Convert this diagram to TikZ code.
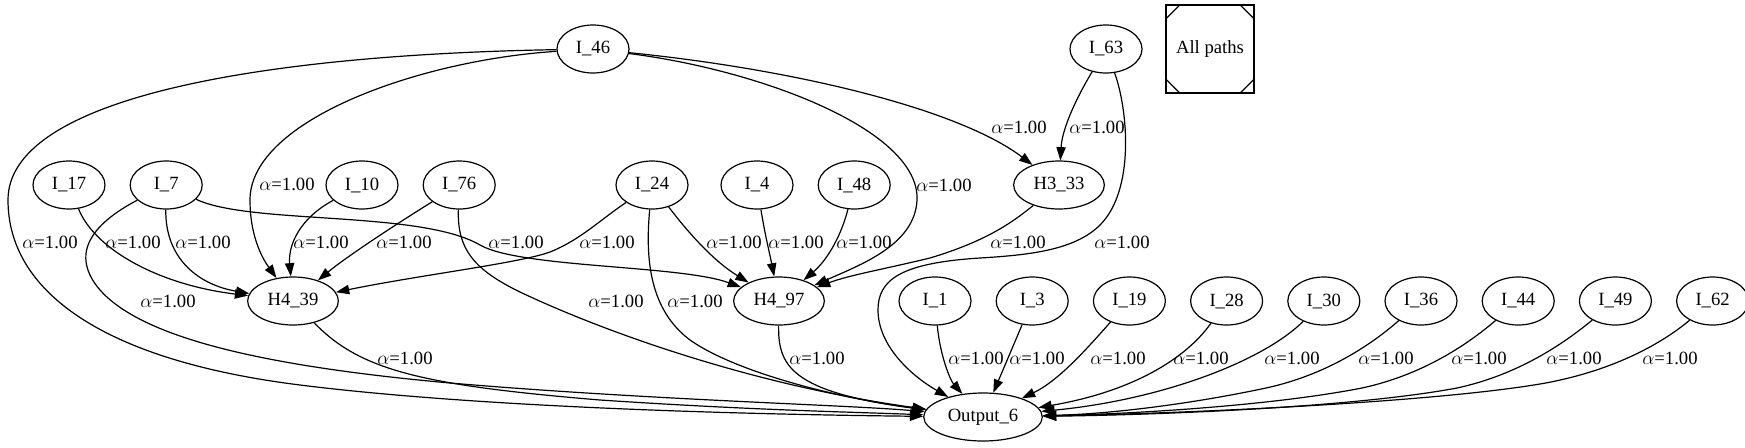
\documentclass[tikz,border=0pt]{standalone}
\usepackage{fontspec}
\setmainfont{Liberation Serif}
\usepackage{tikz}
\usetikzlibrary{shapes,arrows.meta}
\usetikzlibrary{positioning}
\usetikzlibrary{calc}
\newcommand\myalpha{$\alpha$=1.00}

\begin{document}
\begin{tikzpicture}[
x=0.75pt, y=-0.75pt,
node distance=18pt,
font=\fontsize{14}{16}\selectfont,
mynode/.style={
  ellipse,
  draw,
  line width=0.9pt,
  minimum width=54pt,
  minimum height=36pt,
  inner xsep=5pt,
  text centered},
mybox/.style={draw, line width=0.9pt, minimum size=66pt, inner sep=0pt},
mylabel/.style={inner sep=0pt},
myarrow/.style={line width=0.9pt, -{Triangle[length=10pt,width=7pt]}}
]
\useasboundingbox (0,0) rectangle (1745,447);
\node[mynode] (i46) at (593,49) {I\_46};
\node[mynode] (i63) at (1106,49) {I\_63};
\node[mybox] (allp) at (1210,49) {All paths};
\foreach \c/\sx/\sy in {north west/1/-1,north east/-1/-1,south west/1/1,south east/-1/1}
  \draw[line width=0.9pt] ($(allp.\c)+(0pt,\sy*11.25pt)$) -- ($(allp.\c)+(\sx*11.25pt,0pt)$);
\node[mynode] (i17) at (69,185) {I\_17};
\node[mynode,right=of i17] (i7) {I\_7};
\node[mynode] (i10) at (362,185) {I\_10};
\node[mynode,right=of i10] (i76) {I\_76};
\node[mynode] (i24) at (652,185) {I\_24};
\node[mynode] (i4) at (757,185) {I\_4};
\node[mynode,right=of i4] (i48) {I\_48};
\node[mynode] (h33) at (1059,185) {H3\_33};
\node[mynode] (h39) at (293,301) {H4\_39};
\node[mynode] (h97) at (779,301) {H4\_97};
\node[mynode] (i1) at (935,301) {I\_1};
\node[mynode,right=of i1] (i3) {I\_3};
\node[mynode,right=of i3] (i19) {I\_19};
\node[mynode,right=of i19] (i28) {I\_28};
\node[mynode,right=of i28] (i30) {I\_30};
\node[mynode,right=of i30] (i36) {I\_36};
\node[mynode,right=of i36] (i44) {I\_44};
\node[mynode,right=of i44] (i49) {I\_49};
\node[mynode,right=of i49] (i62) {I\_62};
\node[mynode] (out) at (983,417) {Output\_6};
\draw[myarrow] (i46) .. controls (250,55) and (8,100) .. (8,200) .. controls (8,290) and (100,360) .. (300,385) .. controls (500,410) and (800,415) .. (out) node[mylabel] (a1) at (50,242) {\myalpha};
\draw[myarrow] (i46) .. controls (420,60) and (250,120) .. (250,200) .. controls (250,240) and (265,262) .. (h39) node[mylabel] (a2) at (287,184) {\myalpha};
\draw[myarrow] (i46) .. controls (760,70) and (920,130) .. (917,200) .. controls (915,245) and (860,265) .. (h97) node[mylabel] (a3) at (944,185) {\myalpha};
\draw[myarrow] (i46) .. controls (800,70) and (960,110) .. (h33) node[mylabel] (a4) at (1019,127) {\myalpha};
\draw[myarrow] (i63) .. controls (1075,100) and (1062,130) .. (h33) node[mylabel] (a5) at (1097,127) {\myalpha};
\draw[myarrow] (i63) .. controls (1128,110) and (1135,190) .. (1100,225) .. controls (1075,250) and (1030,255) .. (980,258) .. controls (900,263) and (878,280) .. (878,310) .. controls (878,345) and (910,375) .. (out) node[mylabel] (a6) at (1122,242) {\myalpha};
\draw[myarrow] (i17) .. controls (95,250) and (160,285) .. (h39) node[mylabel] (a7) at (133,242) {\myalpha};
\draw[myarrow] (i7) .. controls (165,260) and (200,285) .. (h39) node[mylabel] (a8) at (203,242) {\myalpha};
\draw[myarrow] (i7) .. controls (250,225) and (420,210) .. (480,245) .. controls (520,268) and (680,265) .. (h97) node[mylabel] (a9) at (516,242) {\myalpha};
\draw[myarrow] (i7) .. controls (90,225) and (70,255) .. (100,290) .. controls (140,335) and (250,365) .. (450,383) .. controls (650,400) and (850,405) .. (out) node[mylabel] (a10) at (168,301) {\myalpha};
\draw[myarrow] (i10) .. controls (300,218) and (288,245) .. (h39) node[mylabel] (a11) at (321,242) {\myalpha};
\draw[myarrow] (i76) .. controls (390,228) and (345,258) .. (h39) node[mylabel] (a12) at (404,242) {\myalpha};
\draw[myarrow] (i76) .. controls (457,250) and (475,270) .. (520,292) .. controls (600,330) and (750,385) .. (out) node[mylabel] (a13) at (616,301) {\myalpha};
\draw[myarrow] (i24) .. controls (600,220) and (580,240) .. (550,252) .. controls (520,263) and (420,275) .. (h39) node[mylabel] (a14) at (607,242) {\myalpha};
\draw[myarrow] (i24) .. controls (690,235) and (715,262) .. (h97) node[mylabel] (a15) at (734,242) {\myalpha};
\draw[myarrow] (i24) .. controls (645,260) and (650,310) .. (690,340) .. controls (740,375) and (850,400) .. (out) node[mylabel] (a16) at (695,301) {\myalpha};
\draw[myarrow] (i4) .. controls (765,235) and (770,255) .. (h97) node[mylabel] (a17) at (796,242) {\myalpha};
\draw[myarrow] (i48) .. controls (840,240) and (825,262) .. (h97) node[mylabel] (a18) at (864,242) {\myalpha};
\draw[myarrow] (h33) .. controls (1015,220) and (990,240) .. (930,258) .. controls (880,270) and (850,275) .. (h97) node[mylabel] (a19) at (1018,242) {\myalpha};
\draw[myarrow] (h39) .. controls (360,370) and (420,385) .. (600,400) .. controls (750,410) and (850,412) .. (out) node[mylabel] (a20) at (405,358) {\myalpha};
\draw[myarrow] (h97) .. controls (778,365) and (790,392) .. (out) node[mylabel] (a21) at (817,358) {\myalpha};
\draw[myarrow] (i1) .. controls (940,355) and (950,380) .. (out) node[mylabel] (a22) at (976,358) {\myalpha};
\draw[myarrow] (i3) -- (out) node[mylabel] (a23) at (1037,358) {\myalpha};
\draw[myarrow] (i19) .. controls (1090,345) and (1060,380) .. (out) node[mylabel] (a24) at (1118,358) {\myalpha};
\draw[myarrow] (i28) .. controls (1185,360) and (1130,392) .. (out) node[mylabel] (a25) at (1201,358) {\myalpha};
\draw[myarrow] (i30) .. controls (1262,362) and (1160,400) .. (out) node[mylabel] (a26) at (1292,358) {\myalpha};
\draw[myarrow] (i36) .. controls (1371,345) and (1326,375) .. (1266,388) .. controls (1191,404) and (1110,414) .. (out) node[mylabel] (a27) at (1386,358) {\myalpha};
\draw[myarrow] (i44) .. controls (1467,345) and (1422,375) .. (1362,388) .. controls (1270,406) and (1130,414) .. (out) node[mylabel] (a28) at (1479,358) {\myalpha};
\draw[myarrow] (i49) .. controls (1562,345) and (1517,375) .. (1457,388) .. controls (1350,408) and (1150,415) .. (out) node[mylabel] (a29) at (1574,358) {\myalpha};
\draw[myarrow] (i62) .. controls (1660,345) and (1610,372) .. (1540,384) .. controls (1420,404) and (1160,414) .. (out) node[mylabel] (a30) at (1670,358) {\myalpha};
\end{tikzpicture}
\end{document}
